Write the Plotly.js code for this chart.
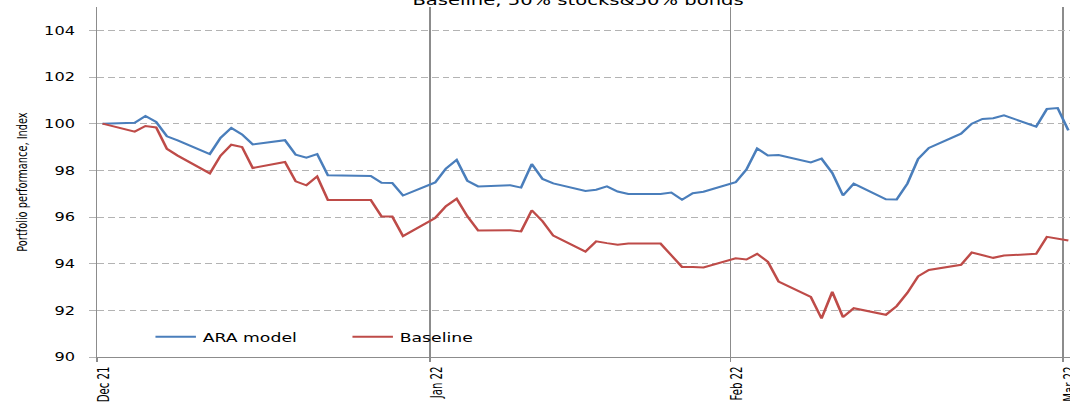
<!DOCTYPE html>
<html><head><meta charset="utf-8">
<script src="https://cdn.plot.ly/plotly-3.0.1.min.js"></script>
<style>
html,body{margin:0;padding:0;background:#fff;overflow:hidden;width:1070px;height:405px}
#wrap{width:793px;height:405px;transform:scaleX(1.34931);transform-origin:0 0}
#chart{width:793px;height:405px}
</style></head>
<body><div id="wrap"><div id="chart"></div></div>
<script>
const dates = [
 '2021-12-31','2022-01-03','2022-01-04','2022-01-05','2022-01-06','2022-01-07',
 '2022-01-10','2022-01-11','2022-01-12','2022-01-13','2022-01-14',
 '2022-01-17','2022-01-18','2022-01-19','2022-01-20','2022-01-21',
 '2022-01-25','2022-01-26','2022-01-27','2022-01-28',
 '2022-01-31','2022-02-01','2022-02-02','2022-02-03','2022-02-04',
 '2022-02-07','2022-02-08','2022-02-09','2022-02-10','2022-02-11',
 '2022-02-14','2022-02-15','2022-02-16','2022-02-17','2022-02-18',
 '2022-02-21','2022-02-22','2022-02-23','2022-02-24','2022-02-25',
 '2022-02-28','2022-03-01','2022-03-02','2022-03-03','2022-03-04',
 '2022-03-07','2022-03-08','2022-03-09','2022-03-10','2022-03-11',
 '2022-03-14','2022-03-15','2022-03-16','2022-03-17','2022-03-18',
 '2022-03-21','2022-03-22','2022-03-23','2022-03-24','2022-03-25',
 '2022-03-28','2022-03-29','2022-03-30','2022-03-31'
];
const araModel = [
 100.00,100.04,100.33,100.07,99.46,99.28,
 98.70,99.39,99.82,99.54,99.11,
 99.29,98.67,98.54,98.70,97.79,
 97.76,97.47,97.46,96.92,
 97.48,98.08,98.45,97.55,97.31,
 97.36,97.26,98.27,97.63,97.44,
 97.12,97.17,97.31,97.09,96.99,
 96.99,97.05,96.74,97.02,97.08,
 97.49,98.03,98.94,98.64,98.66,
 98.34,98.50,97.89,96.92,97.43,
 96.76,96.75,97.43,98.49,98.96,
 99.57,100.00,100.20,100.23,100.36,
 99.87,100.63,100.67,99.71
];
const baseline = [
 100.00,99.66,99.90,99.84,98.92,98.63,
 97.87,98.63,99.10,99.00,98.10,
 98.36,97.53,97.36,97.74,96.73,
 96.73,96.02,96.02,95.18,
 95.96,96.46,96.78,96.03,95.42,
 95.43,95.38,96.29,95.82,95.20,
 94.52,94.96,94.88,94.81,94.86,
 94.86,94.36,93.86,93.86,93.84,
 94.23,94.18,94.42,94.08,93.23,
 92.58,91.65,92.79,91.71,92.09,
 91.81,92.18,92.75,93.46,93.73,
 93.95,94.48,94.35,94.25,94.35,
 94.42,95.15,95.06,94.99
];
const seriesNames = ['ARA model','Baseline'];
const tickDates = ['2021-12-31','2022-01-31','2022-02-28','2022-03-31'];
const tickLabels = ['Dec 21','Jan 22','Feb 22','Mar 22'];
const yTicks = [90,92,94,96,98,100,102,104];
const titleText = 'Baseline, 50% stocks&50% bonds';
const yTitle = 'Portfolio performance, Index';

const mainFont = 'DejaVu Sans, Verdana, sans-serif';
const narrowFont = 'Liberation Sans Narrow, DejaVu Sans Condensed, Roboto Condensed, sans-serif';

const traces = [
  {x: dates, y: araModel, name: seriesNames[0], type: 'scatter', mode: 'lines',
   xperiod: 86400000, xperiodalignment: 'middle',
   line: {color: '#4a7ebb', width: 2}},
  {x: dates, y: baseline, name: seriesNames[1], type: 'scatter', mode: 'lines',
   xperiod: 86400000, xperiodalignment: 'middle',
   line: {color: '#be4b48', width: 2}}
];

const layout = {
  width: 793, height: 405,
  margin: {l: 72, r: 0, t: 7, b: 48, pad: 0},
  paper_bgcolor: '#ffffff', plot_bgcolor: '#ffffff',
  showlegend: true,
  title: {text: titleText, font: {family: mainFont, size: 14.5, color: '#000'},
          xref: 'paper', x: 0.4943, xanchor: 'center', yref: 'container', y: 0.988, yanchor: 'bottom'},
  legend: {orientation: 'h', x: 0.053, xanchor: 'left', y: 0.057, yanchor: 'middle',
           entrywidth: 101, entrywidthmode: 'pixels',
           font: {family: mainFont, size: 12.8, color: '#000'}, bgcolor: 'rgba(0,0,0,0)'},
  xaxis: {
    type: 'date', range: ['2021-12-31', '2022-03-31 15:40'],
    tickmode: 'array', tickvals: tickDates, ticktext: tickLabels, tickangle: -90,
    ticklabeloverflow: 'allow', ticklabelshift: 5,
    tickfont: {family: narrowFont, size: 11.3, color: '#000'},
    showgrid: true, gridcolor: '#8c8c8c', gridwidth: 1,
    showline: true, linecolor: '#8c8c8c', linewidth: 1,
    ticks: 'outside', ticklen: 4, tickcolor: '#8c8c8c', tickwidth: 1,
    zeroline: false, fixedrange: true
  },
  yaxis: {
    range: [90, 105], tickmode: 'array', tickvals: yTicks, ticktext: yTicks.map(String),
    tickfont: {family: mainFont, size: 12, color: '#000'},
    showgrid: true, gridcolor: '#b3b3b3', gridwidth: 1, griddash: '5px,3px',
    showline: true, linecolor: '#8c8c8c', linewidth: 1,
    ticks: 'outside', ticklen: 5, tickcolor: '#b3b3b3', tickwidth: 1,
    ticklabelstandoff: 8,
    zeroline: false, fixedrange: true,
    title: {text: yTitle, font: {family: narrowFont, size: 10.9, color: '#000'}, standoff: 9}
  }
};

Plotly.newPlot('chart', traces, layout, {displayModeBar: false, staticPlot: true});
</script>
</body></html>
